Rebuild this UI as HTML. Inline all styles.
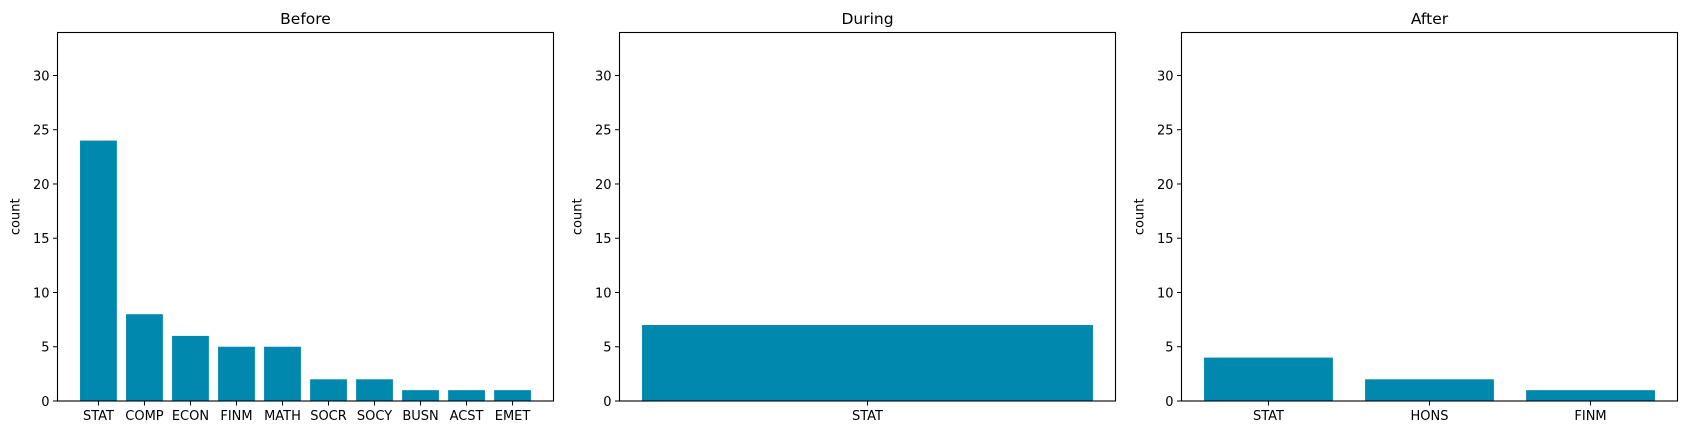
<!DOCTYPE html>
<html><head><meta charset="utf-8"><style>
html,body{margin:0;padding:0;background:#fff;}
svg{display:block;font-family:"DejaVu Sans","Liberation Sans",sans-serif;}
</style></head><body>
<svg id="chart" width="1686" height="435"></svg>
<script>
const titles = ["Before","During","After"];
const cats0 = ["STAT","COMP","ECON","FINM","MATH","SOCR","SOCY","BUSN","ACST","EMET"];
const vals0 = [24,8,6,5,5,2,2,1,1,1];
const cats1 = ["STAT"];
const vals1 = [7];
const cats2 = ["STAT","HONS","FINM"];
const vals2 = [4,2,1];
const yTicks = [0,5,10,15,20,25,30];
const yMax = 33.96;

(function(){
const NS="http://www.w3.org/2000/svg";
const svg=document.getElementById('chart');
function mk(t,a,p){const e=document.createElementNS(NS,t);for(const k in a)e.setAttribute(k,a[k]);(p||svg).appendChild(e);return e;}
const panels=[[cats0,vals0],[cats1,vals1],[cats2,vals2]];
const lefts=[57.5,619.5,1181.5], W=496, topY=32.5, bottomY=401;
panels.forEach((pd,i)=>{
  const cats=pd[0], vals=pd[1], L=lefts[i];
  const g=mk('g',{});
  
  
  const n=cats.length, span=(n-1)+0.8, m=0.05*span;
  const x0=-0.4-m, x1=n-1+0.4+m;
  const xs=v=>L+(v-x0)/(x1-x0)*W;
  const ys=v=>bottomY-v/yMax*(bottomY-topY);
  vals.forEach((v,j)=>{
    const r=mk('rect',{x:xs(j-0.4),y:ys(v),width:xs(j+0.4)-xs(j-0.4),height:bottomY-ys(v),fill:'#0088ae'},g);
    
    
    mk('line',{x1:xs(j),x2:xs(j),y1:bottomY,y2:bottomY+4.5,stroke:'#000','stroke-width':1},g);
    const t=mk('text',{x:xs(j),y:bottomY+19,'text-anchor':'middle','font-size':13,fill:'#000'},g);
    t.textContent=cats[j];
    
    
  });
  yTicks.forEach(v=>{
    mk('line',{x1:L-4.5,x2:L,y1:ys(v),y2:ys(v),stroke:'#000','stroke-width':1},g);
    const t=mk('text',{x:L-8,y:ys(v)+5,'text-anchor':'end','font-size':13,fill:'#000'},g);
    t.textContent=v;
    
    
  });
  const fr=mk('rect',{x:L,y:topY,width:W,height:bottomY-topY,fill:'none',stroke:'#000','stroke-width':1.1},g);
  
  
  const yl=mk('text',{x:0,y:0,transform:`translate(${L-38},${(topY+bottomY)/2}) rotate(-90)`,'text-anchor':'middle','font-size':13,fill:'#000'},g);
  yl.textContent='count';
  
  
  const tt=mk('text',{x:L+W/2,y:24,'text-anchor':'middle','font-size':15.5,fill:'#000'},g);
  tt.textContent=titles[i];
  
  
});
})();
</script>
</body></html>
